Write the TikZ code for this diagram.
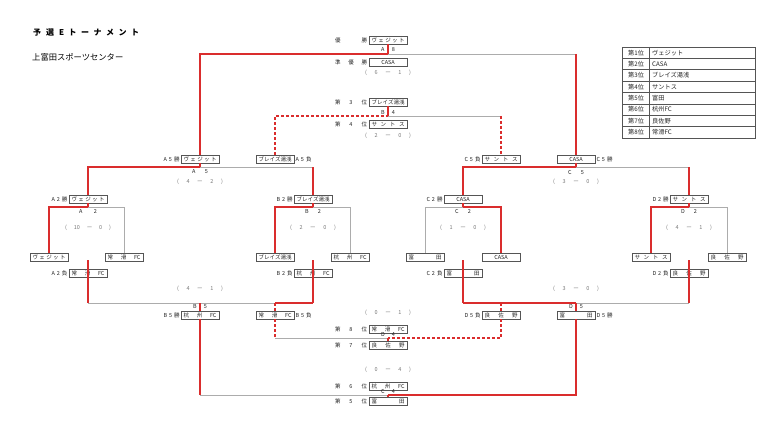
\documentclass[tikz,border=0pt]{standalone}
\usepackage{fontspec}
\setmainfont{Noto Sans CJK JP}
\usetikzlibrary{positioning}
\definecolor{redc}{RGB}{218,45,45}
\definecolor{grayc}{RGB}{172,172,172}
\definecolor{boxc}{RGB}{85,85,85}
\definecolor{txtc}{RGB}{35,35,35}
\definecolor{scorec}{RGB}{120,120,120}
\newcommand{\fsS}{\fontsize{5.5}{6}\selectfont}
\newcommand{\tnm}[1]{\makebox[33pt][s]{#1}}
\newcommand{\sprd}[2]{\makebox[#1][s]{#2}}
\newcommand{\scoretxt}[2]{\makebox[46pt][s]{(\hfill #1\hfill ー\hfill #2\hfill )}}
\tikzset{
 redl/.style={draw=redc, line width=1.5pt},
 redd/.style={draw=redc, line width=1.3pt, dash pattern=on 3pt off 2pt},
 grayl/.style={draw=grayc, line width=0.9pt},
 tbox/.style={draw=boxc, line width=0.6pt, minimum width=38pt, minimum height=8pt, inner sep=0pt, font=\fsS, text=txtc},
 lbl/.style={inner sep=0pt, font=\fsS, text=txtc},
 scl/.style={inner sep=0pt, font=\fsS, text=scorec},
 tlbl/.style={inner sep=0pt, font=\fontsize{6.2}{7}\selectfont, text=txtc, anchor=west},
 tblline/.style={draw=boxc, line width=0.5pt},
}
\begin{document}
\begin{tikzpicture}[x=1pt,y=-1pt]
\useasboundingbox (0,0) rectangle (763,433);
% titles
\node[anchor=west, inner sep=0pt, font=\fontsize{8}{9}\selectfont\bfseries, text=black] (title) at (33,33)
 {予\hspace{5pt}選\hspace{5pt}E\hspace{4.5pt}ト\hspace{4.5pt}ー\hspace{4.5pt}ナ\hspace{4.5pt}メ\hspace{4.5pt}ン\hspace{4.5pt}ト};
\node[anchor=west, inner sep=0pt, font=\fontsize{8.3}{9}\selectfont, text=black] (venue) at (32,57) {上富田スポーツセンター};
% ranking table
\draw[tblline] (622,47) rectangle (755,138);
\draw[tblline] (649,47) -- (649,138);
\foreach \k in {1,...,7}{\draw[tblline] (622,{47+\k*11.375}) -- (755,{47+\k*11.375});}
\foreach \i/\r/\n in {1/第1位/ヴェジット,2/第2位/CASA,3/第3位/ブレイズ湯浅,4/第4位/サントス,5/第5位/富田,6/第6位/杭州FC,7/第7位/良佐野,8/第8位/常滑FC}{
 \node[tlbl] (rk\i) at (628,{47+(\i-0.5)*11.375}) {\r};
 \node[tlbl] (nm\i) at (652,{47+(\i-0.5)*11.375}) {\n};
}
% ---------- final
\node[tbox] (w1) at (388,40) {\tnm{ヴ\hfill ェ\hfill ジ\hfill ッ\hfill ト}};
\node[lbl, left=1.5pt of w1] (w1t) {\sprd{32pt}{優\hfill 勝}};
\node[tbox] (w2) at (388,62) {\tnm{\hfill CASA\hfill}};
\node[lbl, left=1.5pt of w2] (w2t) {\sprd{32pt}{準\hfill 優\hfill 勝}};
\node[lbl] (mA8) at (388,50) {\sprd{14pt}{A\hfill 8}};
\node[scl] (sA8) at (388,73) {\scoretxt{6}{1}};
\coordinate (jA8) at (388,54);
% ---------- 3rd place
\node[tbox] (p3) at (388,102) {\tnm{ブ\hfill レ\hfill イ\hfill ズ\hfill 湯\hfill 浅}};
\node[lbl, left=1.5pt of p3] (p3t) {\sprd{32pt}{第\hfill 3\hfill 位}};
\node[tbox] (p4) at (388,124) {\tnm{サ\hfill ン\hfill ト\hfill ス}};
\node[lbl, left=1.5pt of p4] (p4t) {\sprd{32pt}{第\hfill 4\hfill 位}};
\node[lbl] (mB4) at (388,112) {\sprd{14pt}{B\hfill 4}};
\node[scl] (sB4) at (388,136) {\scoretxt{2}{0}};
\coordinate (jB4) at (388,116);
% ---------- semi-final row
\node[tbox] (a5w) at (200,159) {\tnm{ヴ\hfill ェ\hfill ジ\hfill ッ\hfill ト}};
\node[lbl, left=1pt of a5w] (a5wt) {\sprd{16pt}{A\hfill 5\hfill 勝}};
\node[tbox] (a5l) at (275,159) {\tnm{ブ\hfill レ\hfill イ\hfill ズ\hfill 湯\hfill 浅}};
\node[lbl, right=1pt of a5l] (a5lt) {\sprd{16pt}{A\hfill 5\hfill 負}};
\node[tbox] (c5l) at (501,159) {\tnm{サ\hfill ン\hfill ト\hfill ス}};
\node[lbl, left=1pt of c5l] (c5lt) {\sprd{16pt}{C\hfill 5\hfill 負}};
\node[tbox] (c5w) at (576,159) {\tnm{\hfill CASA\hfill}};
\node[lbl, right=1pt of c5w] (c5wt) {\sprd{16pt}{C\hfill 5\hfill 勝}};
\coordinate (jA5) at (200,167);
\coordinate (jC5) at (576,167);
\node[lbl] (mA5) at (200,172) {\sprd{16pt}{A\hfill 5}};
\node[scl] (sA5) at (200,182) {\scoretxt{4}{2}};
\node[lbl] (mC5) at (576,172) {\sprd{16pt}{C\hfill 5}};
\node[scl] (sC5) at (576,182) {\scoretxt{3}{0}};
% ---------- quarter rows
% A2
\node[tbox] (a2w) at (88,199) {\tnm{ヴ\hfill ェ\hfill ジ\hfill ッ\hfill ト}};
\node[lbl, left=1pt of a2w] (a2wt) {\sprd{16pt}{A\hfill 2\hfill 勝}};
\coordinate (jA2) at (88,207);
\node[lbl] (mA2) at (88,211.5) {\sprd{18pt}{A\hfill 2}};
\node[scl] (sA2) at (88,228) {\scoretxt{10}{0}};
\node[tbox] (a2a) at (49,257) {\tnm{ヴ\hfill ェ\hfill ジ\hfill ッ\hfill ト}};
\node[tbox] (a2b) at (124,257) {\tnm{常\hfill 滑\hfill FC}};
\node[tbox] (a2l) at (88,273) {\tnm{常\hfill 滑\hfill FC}};
\node[lbl, left=1pt of a2l] (a2lt) {\sprd{16pt}{A\hfill 2\hfill 負}};
\coordinate (a2d) at (88,260);
% B2
\node[tbox] (b2w) at (313,199) {\tnm{ブ\hfill レ\hfill イ\hfill ズ\hfill 湯\hfill 浅}};
\node[lbl, left=1pt of b2w] (b2wt) {\sprd{16pt}{B\hfill 2\hfill 勝}};
\coordinate (jB2) at (313,207);
\node[lbl] (mB2) at (313,211.5) {\sprd{16pt}{B\hfill 2}};
\node[scl] (sB2) at (313,228) {\scoretxt{2}{0}};
\node[tbox] (b2a) at (275,257) {\tnm{ブ\hfill レ\hfill イ\hfill ズ\hfill 湯\hfill 浅}};
\node[tbox] (b2b) at (350,257) {\tnm{杭\hfill 州\hfill FC}};
\node[tbox] (b2l) at (313,273) {\tnm{杭\hfill 州\hfill FC}};
\node[lbl, left=1pt of b2l] (b2lt) {\sprd{16pt}{B\hfill 2\hfill 負}};
\coordinate (b2d) at (313,260);
% C2
\node[tbox] (c2w) at (463,199) {\tnm{\hfill CASA\hfill}};
\node[lbl, left=1pt of c2w] (c2wt) {\sprd{16pt}{C\hfill 2\hfill 勝}};
\coordinate (jC2) at (463,207);
\node[lbl] (mC2) at (463,211.5) {\sprd{16pt}{C\hfill 2}};
\node[scl] (sC2) at (463,228) {\scoretxt{1}{0}};
\node[tbox] (c2a) at (425,257) {\tnm{富\hfill 田}};
\node[tbox] (c2b) at (501,257) {\tnm{\hfill CASA\hfill}};
\node[tbox] (c2l) at (463,273) {\tnm{富\hfill 田}};
\node[lbl, left=1pt of c2l] (c2lt) {\sprd{16pt}{C\hfill 2\hfill 負}};
\coordinate (c2d) at (463,260);
% D2
\node[tbox] (d2w) at (689,199) {\tnm{サ\hfill ン\hfill ト\hfill ス}};
\node[lbl, left=1pt of d2w] (d2wt) {\sprd{16pt}{D\hfill 2\hfill 勝}};
\coordinate (jD2) at (689,207);
\node[lbl] (mD2) at (689,211.5) {\sprd{16pt}{D\hfill 2}};
\node[scl] (sD2) at (689,228) {\scoretxt{4}{1}};
\node[tbox] (d2a) at (651,257) {\tnm{サ\hfill ン\hfill ト\hfill ス}};
\node[tbox] (d2b) at (727,257) {\tnm{良\hfill 佐\hfill 野}};
\node[tbox] (d2l) at (689,273) {\tnm{良\hfill 佐\hfill 野}};
\node[lbl, left=1pt of d2l] (d2lt) {\sprd{16pt}{D\hfill 2\hfill 負}};
\coordinate (d2d) at (689,260);
% ---------- B5 / D5
\coordinate (jB5) at (200,303);
\coordinate (kB5) at (275,303);
\node[scl] (sB5) at (200,289) {\scoretxt{4}{1}};
\node[lbl] (mB5) at (200,307) {\sprd{14pt}{B\hfill 5}};
\node[tbox] (b5w) at (200,315) {\tnm{杭\hfill 州\hfill FC}};
\node[lbl, left=1pt of b5w] (b5wt) {\sprd{16pt}{B\hfill 5\hfill 勝}};
\node[tbox] (b5l) at (275,315) {\tnm{常\hfill 滑\hfill FC}};
\node[lbl, right=1pt of b5l] (b5lt) {\sprd{16pt}{B\hfill 5\hfill 負}};
\coordinate (jD5) at (576,303);
\coordinate (kD5) at (501,303);
\node[scl] (sD5) at (576,289) {\scoretxt{3}{0}};
\node[lbl] (mD5) at (576,307) {\sprd{14pt}{D\hfill 5}};
\node[tbox] (d5l) at (501,315) {\tnm{良\hfill 佐\hfill 野}};
\node[lbl, left=1pt of d5l] (d5lt) {\sprd{16pt}{D\hfill 5\hfill 負}};
\node[tbox] (d5w) at (576,315) {\tnm{富\hfill 田}};
\node[lbl, right=1pt of d5w] (d5wt) {\sprd{16pt}{D\hfill 5\hfill 勝}};
% ---------- 7th/8th
\coordinate (jD4) at (388,338);
\node[scl] (sD4) at (388,313) {\scoretxt{0}{1}};
\node[tbox] (p8) at (388,329) {\tnm{常\hfill 滑\hfill FC}};
\node[lbl, left=1.5pt of p8] (p8t) {\sprd{32pt}{第\hfill 8\hfill 位}};
\node[lbl] (mD4) at (388,334.5) {\sprd{14pt}{D\hfill 4}};
\node[tbox] (p7) at (388,345) {\tnm{良\hfill 佐\hfill 野}};
\node[lbl, left=1.5pt of p7] (p7t) {\sprd{32pt}{第\hfill 7\hfill 位}};
% ---------- 5th/6th
\coordinate (jC4) at (388,395);
\node[scl] (sC4) at (388,370) {\scoretxt{0}{4}};
\node[tbox] (p6) at (388,386) {\tnm{杭\hfill 州\hfill FC}};
\node[lbl, left=1.5pt of p6] (p6t) {\sprd{32pt}{第\hfill 6\hfill 位}};
\node[lbl] (mC4) at (388,391.5) {\sprd{14pt}{C\hfill 4}};
\node[tbox] (p5) at (388,401) {\tnm{富\hfill 田}};
\node[lbl, left=1.5pt of p5] (p5t) {\sprd{32pt}{第\hfill 5\hfill 位}};
% ================= gray lines
\draw[grayl] (jA8) -- (c5w.north |- jA8);
\draw[grayl] (jB4) -- (c5l.north |- jB4);
\draw[grayl] (jA5) -- (b2w.north |- jA5);
\draw[grayl] (jC5) -- (d2w.north |- jC5);
\draw[grayl] (jA2) -| (a2b.north);
\draw[grayl] (jB2) -| (b2b.north);
\draw[grayl] (jC2) -| (c2a.north);
\draw[grayl] (jD2) -| (d2b.north);
\draw[grayl] (a2l.south |- jB5) -- (kB5);
\draw[grayl] (jD5) -- (d2l.south |- jD5);
\draw[grayl] (b5l.south |- jD4) -- (jD4);
\draw[grayl] (b5w.south |- jC4) -- (jC4);
% ================= red lines
\draw[redl] (a5w.north) |- (jA8);
\draw[redl] (c5w.north |- jA8) -- (c5w.north);
\draw[redl] (w1.south) -- (jA8);
\draw[redd] (a5l.north) |- (jB4);
\draw[redd] (c5l.north |- jB4) -- (c5l.north);
\draw[redl] (p3.south) -- (jB4);
\draw[redl] (a2w.north) |- (jA5);
\draw[redl] (b2w.north |- jA5) -- (b2w.north);
\draw[redl] (a5w.south) -- (jA5);
\draw[redl] (c2w.north) |- (jC5);
\draw[redl] (d2w.north |- jC5) -- (d2w.north);
\draw[redl] (c5w.south) -- (jC5);
\draw[redl] (a2a.north) |- (jA2);
\draw[redl] (a2w.south) -- (jA2);
\draw[redl] (b2a.north) |- (jB2);
\draw[redl] (b2w.south) -- (jB2);
\draw[redl] (c2b.north) |- (jC2);
\draw[redl] (c2w.south) -- (jC2);
\draw[redl] (d2a.north) |- (jD2);
\draw[redl] (d2w.south) -- (jD2);
\draw[redl] (a2d) -- (a2l.south |- jB5);
\draw[redl] (b2d) -- (b2l.south |- jB5);
\draw[redl] (c2d) -- (c2l.south |- jD5);
\draw[redl] (d2d) -- (d2l.south |- jD5);
\draw[redl] (kB5) -- (b2l.south |- jB5);
\draw[redl] (jB5) -- (b5w.north);
\draw[redd] (kB5) -- (b5l.north);
\draw[redl] (c2l.south |- jD5) -- (jD5);
\draw[redl] (jD5) -- (d5w.north);
\draw[redd] (kD5) -- (d5l.north);
\draw[redd] (b5l.south) -- (b5l.south |- jD4);
\draw[redd] (d5l.south) |- (jD4);
\draw[redl] (jD4) -- (p7.north);
\draw[redl] (b5w.south) -- (b5w.south |- jC4);
\draw[redl] (d5w.south) |- (jC4);
\draw[redl] (jC4) -- (p5.north);
\end{tikzpicture}
\end{document}
